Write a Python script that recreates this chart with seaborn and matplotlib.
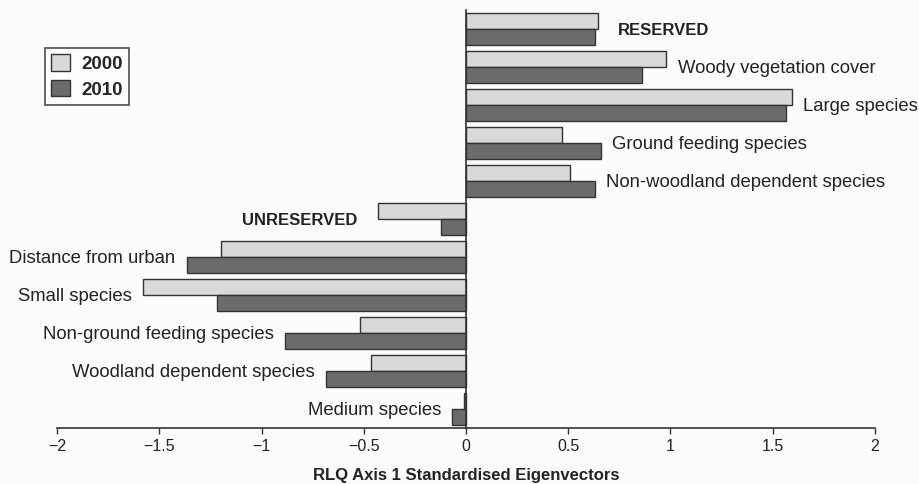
import pandas as pd
import seaborn as sns
import matplotlib.pyplot as plt

# Data
categories = [
    "RESERVED",
    "Woody vegetation cover",
    "Large species",
    "Ground feeding species",
    "Non-woodland dependent species",
    "UNRESERVED",
    "Distance from urban",
    "Small species",
    "Non-ground feeding species",
    "Woodland dependent species",
    "Medium species",
]
values_2000 = [0.645, 0.98, 1.595, 0.47, 0.51, -0.43, -1.20, -1.58, -0.52, -0.465, -0.01]
values_2010 = [0.63, 0.86, 1.565, 0.66, 0.63, -0.12, -1.366, -1.22, -0.885, -0.685, -0.067]
years = ["2000", "2010"]
bold_labels = ["RESERVED", "UNRESERVED"]

df = pd.DataFrame({
    "category": categories * 2,
    "year": [years[0]] * len(categories) + [years[1]] * len(categories),
    "value": values_2000 + values_2010,
})

sns.set_theme(style="white")
plt.rcParams["font.family"] = ["Liberation Sans", "DejaVu Sans"]

fig = plt.figure(figsize=(9.2, 4.84), dpi=100)
fig.patch.set_facecolor("#fcfcfc")
ax = fig.add_axes([0.062, 0.116, 0.889, 0.863])
ax.set_facecolor("#fcfcfc")

sns.barplot(
    data=df, x="value", y="category", hue="year", hue_order=years,
    order=categories, orient="h", width=0.84,
    palette=["#d9d9d9", "#6b6b6b"], edgecolor="#333333", linewidth=1.0,
    ax=ax,
)

# Category labels beside the bars
for i, cat in enumerate(categories):
    hi = max(values_2000[i], values_2010[i])
    lo = min(values_2000[i], values_2010[i])
    is_bold = cat in bold_labels
    weight = "bold" if is_bold else "normal"
    size = 12 if is_bold else 13.3
    gap = 0.1 if is_bold else 0.055
    if hi > 0:
        ax.text(hi + gap, i + 0.04, cat, ha="left", va="center", fontsize=size,
                fontweight=weight, color="#222222")
    else:
        ax.text(lo - gap, i + 0.04, cat, ha="right", va="center", fontsize=size,
                fontweight=weight, color="#222222")

ax.set_xlim(-2, 2)
ax.set_ylim(10.5, -0.5)
ax.set_xticks([-2, -1.5, -1, -0.5, 0, 0.5, 1, 1.5, 2])
ax.set_xticklabels(["\u22122", "\u22121.5", "\u22121", "\u22120.5", "0", "0.5", "1", "1.5", "2"])
ax.set_yticks([])
ax.set_ylabel("")
ax.set_xlabel("RLQ Axis 1 Standardised Eigenvectors", fontsize=12,
              fontweight="bold", color="#222222", labelpad=10)

ax.spines["top"].set_visible(False)
ax.spines["right"].set_visible(False)
ax.spines["left"].set_position(("data", 0))
for s in ["left", "bottom"]:
    ax.spines[s].set_color("#333333")
    ax.spines[s].set_linewidth(1.2)
ax.tick_params(axis="x", direction="out", length=4, width=1, color="#333333",
               labelsize=11.5, labelcolor="#222222", bottom=True, pad=4)

leg = ax.legend(loc="upper left", bbox_to_anchor=(-0.015, 0.91), borderaxespad=0,
                frameon=True, fancybox=False, edgecolor="#222222",
                prop={"weight": "bold", "size": 13.5}, handlelength=1.0,
                handleheight=1.0, labelspacing=0.35, borderpad=0.35,
                handletextpad=0.6, title=None)
leg.get_frame().set_linewidth(1.2)
leg.get_frame().set_facecolor("white")

fig.savefig("out.png", dpi=100, facecolor=fig.get_facecolor())
